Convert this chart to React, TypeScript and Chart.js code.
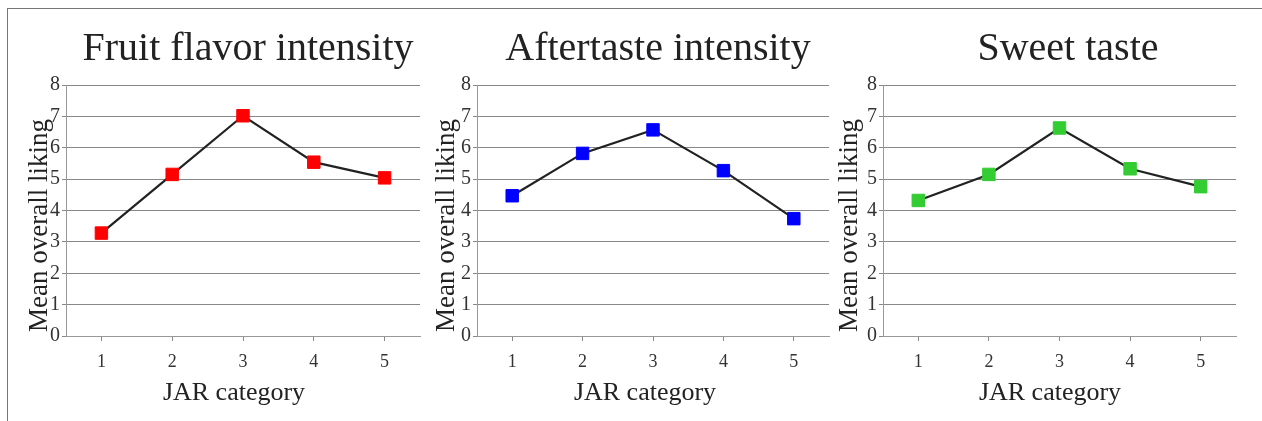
import React, { useEffect, useRef } from "react";
import { Chart, registerables } from "chart.js";

Chart.register(...registerables);

const categories = ["1", "2", "3", "4", "5"];
const fruitFlavor = [3.28, 5.15, 7.02, 5.54, 5.04];
const aftertaste = [4.47, 5.82, 6.57, 5.27, 3.74];
const sweetTaste = [4.32, 5.15, 6.63, 5.33, 4.76];
const panelTitles = ["Fruit flavor intensity", "Aftertaste intensity", "Sweet taste"];
const markerColors = ["#ff0000", "#0000ff", "#33cc33"];
const yAxisTitle = "Mean overall liking";
const xAxisTitle = "JAR category";
const yMin = 0;
const yMax = 8;

const W = 1262;
const H = 421;
const SERIF = "'Liberation Serif', 'Times New Roman', serif";

type Panel = {
  values: number[];
  title: string;
  color: string;
  axisX: number;
  plotRight: number;
  titleX: number;
  yTitleX: number;
  xTitleX: number;
};

const panels: Panel[] = [
  { values: fruitFlavor, title: panelTitles[0], color: markerColors[0], axisX: 66, plotRight: 420, titleX: 248, yTitleX: 47, xTitleX: 234 },
  { values: aftertaste, title: panelTitles[1], color: markerColors[1], axisX: 477, plotRight: 829, titleX: 658, yTitleX: 454, xTitleX: 645 },
  { values: sweetTaste, title: panelTitles[2], color: markerColors[2], axisX: 883, plotRight: 1236, titleX: 1068, yTitleX: 857, xTitleX: 1050 },
];

const PLOT_TOP = 85;
const PLOT_BOTTOM = 336;
const Y_AXIS_W = 58;
const X_AXIS_H = 50;

const panelText = {
  id: "panelText",
  afterDraw(chart: any, _args: any, opts: any) {
    const ctx = chart.ctx;
    ctx.save();
    ctx.fillStyle = "#222";
    ctx.textAlign = "center";
    ctx.textBaseline = "alphabetic";
    ctx.font = `40px ${SERIF}`;
    ctx.fillText(opts.title, opts.titleX, 60);
    ctx.font = `26px ${SERIF}`;
    ctx.fillText(opts.xTitle, opts.xTitleX, 400);
    ctx.translate(opts.yTitleX, 225.5);
    ctx.rotate(-Math.PI / 2);
    ctx.font = `27px ${SERIF}`;
    ctx.fillText(opts.yTitle, 0, 0);
    ctx.restore();
  },
};

function PanelChart({ p }: { p: Panel }) {
  const ref = useRef<HTMLCanvasElement>(null);
  useEffect(() => {
    if (!ref.current) return;
    const chart = new Chart(ref.current, {
      type: "line",
      data: {
        labels: categories,
        datasets: [
          {
            data: p.values,
            borderColor: "#222",
            borderWidth: 2.2,
            pointStyle: "rect",
            pointRadius: 8.8,
            pointBackgroundColor: p.color,
            pointBorderColor: p.color,
            pointBorderWidth: 1,
            tension: 0,
          },
        ],
      },
      options: {
        animation: false,
        responsive: false,
        events: [],
        layout: {
          padding: {
            left: p.axisX - Y_AXIS_W,
            right: W - p.plotRight,
            top: PLOT_TOP,
            bottom: H - PLOT_BOTTOM - X_AXIS_H,
          },
        },
        plugins: {
          legend: { display: false },
          tooltip: { enabled: false },
          title: { display: false },
          panelText: {
            title: p.title,
            titleX: p.titleX,
            xTitle: xAxisTitle,
            xTitleX: p.xTitleX,
            yTitle: yAxisTitle,
            yTitleX: p.yTitleX,
          },
        } as any,
        scales: {
          x: {
            type: "category",
            offset: true,
            afterFit: (s: any) => {
              s.height = X_AXIS_H;
            },
            grid: {
              display: true,
              offset: false,
              drawOnChartArea: false,
              drawTicks: true,
              tickLength: 5,
              color: "#888",
            },
            border: { display: true, color: "#999", width: 1 },
            ticks: {
              color: "#333",
              padding: 10,
              font: { family: SERIF, size: 18 },
            },
          },
          y: {
            min: yMin,
            max: yMax,
            afterFit: (s: any) => {
              s.width = Y_AXIS_W;
            },
            grid: {
              color: "#888",
              lineWidth: 1,
              tickLength: 4,
            },
            border: { display: true, color: "#999", width: 1 },
            ticks: {
              stepSize: 1,
              color: "#333",
              padding: 2,
              font: { family: SERIF, size: 20 },
            },
          },
        },
      },
      plugins: [panelText],
    });
    return () => chart.destroy();
  }, [p]);
  return (
    <canvas
      ref={ref}
      width={W}
      height={H}
      style={{ position: "absolute", left: 0, top: 0, width: W, height: H }}
    />
  );
}

export default function App() {
  return (
    <div style={{ position: "absolute", left: 0, top: 0, width: W, height: H, background: "#fff", overflow: "hidden" }}>
      <div
        style={{
          position: "absolute",
          left: 7,
          top: 8,
          width: W,
          height: H,
          borderLeft: "1px solid #777",
          borderTop: "1px solid #777",
        }}
      />
      {panels.map((p, i) => (
        <PanelChart key={i} p={p} />
      ))}
    </div>
  );
}
